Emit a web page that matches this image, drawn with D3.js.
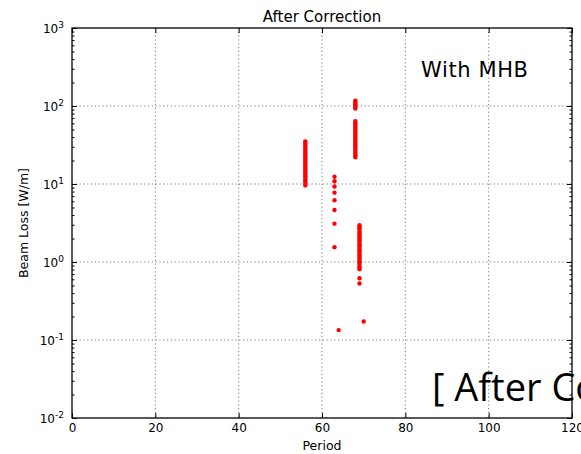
<!DOCTYPE html>
<html>
<head>
<meta charset="utf-8">
<script src="https://cdn.jsdelivr.net/npm/d3@7"></script>
<style>
  html, body { margin: 0; padding: 0; background: #fff; }
  svg { display: block; }
  text { font-family: "DejaVu Sans", sans-serif; fill: #000; }
</style>
</head>
<body>
<script>
// Beam loss per period after correction (W/m), grouped by period
const periods = [56, 63, 64, 68, 69, 70];
const lossAt56 = [9.6, 10.1, 10.7, 11.3, 11.9, 12.6, 13.3, 14.0, 14.8, 15.6, 16.5, 17.4,
                  18.4, 19.4, 20.5, 21.6, 22.8, 24.1, 25.4, 26.8, 28.3, 29.9, 31.6, 33.4, 35.2];
const lossAt63 = [1.55, 3.1, 4.65, 6.2, 7.75, 9.3, 10.85, 12.4];
const lossAt64 = [0.134];
const lossAt68 = [22.1, 23.3, 24.6, 26.0, 27.4, 28.9, 30.5, 32.2, 34.0, 35.9, 37.9, 40.0,
                  42.2, 44.5, 47.0, 49.6, 52.3, 55.2, 58.3, 61.5, 64.0,
                  93, 97, 101, 105, 109, 113, 117];
const lossAt69 = [0.53, 0.62, 0.81, 0.85, 0.89, 0.94, 0.99, 1.04, 1.09, 1.15, 1.21, 1.27,
                  1.34, 1.41, 1.48, 1.56, 1.64, 1.72, 1.81, 1.90, 2.0, 2.1, 2.21, 2.33,
                  2.45, 2.58, 2.71, 2.85, 2.97];
const lossAt70 = [0.173];
const lossGroups = [lossAt56, lossAt63, lossAt64, lossAt68, lossAt69, lossAt70];

// Axis ticks
const xTicks = [0, 20, 40, 60, 80, 100, 120];
const yExponents = [-2, -1, 0, 1, 2, 3];

// Texts
const titleText = "After Correction";
const xLabel = "Period";
const yLabel = "Beam Loss [W/m]";
const noteText = "With MHB";
const bannerText = "[ After Correction ]";

const W = 581, H = 454;
const plot = { left: 72, top: 28, right: 572, bottom: 418 };

const points = [];
periods.forEach((p, i) => lossGroups[i].forEach(v => points.push({ period: p, loss: v })));

const svg = d3.select("body").append("svg")
  .attr("width", W).attr("height", H);

const x = d3.scaleLinear().domain([0, 120]).range([plot.left, plot.right]);
const y = d3.scaleLog().domain([1e-2, 1e3]).range([plot.bottom, plot.top]);
const yTicks = yExponents.map(e => Math.pow(10, e));
const yMinor = y.ticks().filter(v => !yTicks.some(t => Math.abs(Math.log10(v) - Math.log10(t)) < 1e-9));

// Dotted grid
const grid = svg.append("g")
  .attr("stroke", "#7a7a7a").attr("stroke-width", 1).attr("stroke-dasharray", "1.2,2.6");
grid.selectAll(".gx").data(xTicks.slice(1, -1)).join("line")
  .attr("x1", d => x(d)).attr("x2", d => x(d))
  .attr("y1", plot.top).attr("y2", plot.bottom);
grid.selectAll(".gy").data(yTicks.slice(1, -1)).join("line")
  .attr("x1", plot.left).attr("x2", plot.right)
  .attr("y1", d => y(d)).attr("y2", d => y(d));

// Axes with inward ticks
const tickStyle = g => {
  g.select(".domain").remove();
  g.selectAll(".tick line").attr("stroke", "#000").attr("stroke-width", 1);
};

const xAxis = svg.append("g").attr("transform", `translate(0,${plot.bottom})`)
  .call(d3.axisBottom(x).tickValues(xTicks).tickSizeInner(-5).tickSizeOuter(0).tickPadding(5))
  .call(tickStyle);
xAxis.selectAll(".tick text").attr("font-size", 12).attr("font-family", "DejaVu Sans").attr("fill", "#000");

svg.append("g").attr("transform", `translate(0,${plot.top})`)
  .call(d3.axisTop(x).tickValues(xTicks).tickSizeInner(-5).tickSizeOuter(0).tickFormat(""))
  .call(tickStyle);

const yAxis = svg.append("g").attr("transform", `translate(${plot.left},0)`)
  .call(d3.axisLeft(y).tickValues(yTicks).tickSizeInner(-5).tickSizeOuter(0).tickPadding(8).tickFormat(""))
  .call(tickStyle);
yAxis.selectAll(".tick text")
  .attr("font-size", 12).attr("font-family", "DejaVu Sans").attr("fill", "#000")
  .attr("dy", "0.36em")
  .each(function (d, i) {
    const t = d3.select(this);
    t.append("tspan").text("10");
    t.append("tspan").attr("font-size", 9).attr("dy", -4.8).text(String(yExponents[i]));
  });

svg.append("g").attr("transform", `translate(${plot.left},0)`)
  .call(d3.axisLeft(y).tickValues(yMinor).tickSizeInner(-2.5).tickSizeOuter(0).tickFormat(""))
  .call(tickStyle);

svg.append("g").attr("transform", `translate(${plot.right},0)`)
  .call(d3.axisRight(y).tickValues(yTicks).tickSizeInner(-5).tickSizeOuter(0).tickFormat(""))
  .call(tickStyle);
svg.append("g").attr("transform", `translate(${plot.right},0)`)
  .call(d3.axisRight(y).tickValues(yMinor).tickSizeInner(-2.5).tickSizeOuter(0).tickFormat(""))
  .call(tickStyle);

// Data points
svg.append("g").selectAll("circle").data(points).join("circle")
  .attr("cx", d => x(d.period))
  .attr("cy", d => y(d.loss))
  .attr("r", 2.2)
  .attr("fill", "#ff0000");

// Frame
svg.append("rect")
  .attr("x", plot.left).attr("y", plot.top)
  .attr("width", plot.right - plot.left).attr("height", plot.bottom - plot.top)
  .attr("fill", "none").attr("stroke", "#000").attr("stroke-width", 1.3);

// Titles and labels
svg.append("text")
  .attr("x", (plot.left + plot.right) / 2).attr("y", 22)
  .attr("text-anchor", "middle").attr("font-size", 15)
  .text(titleText);

svg.append("text")
  .attr("x", (plot.left + plot.right) / 2).attr("y", 450)
  .attr("text-anchor", "middle").attr("font-size", 12.5)
  .text(xLabel);

svg.append("text")
  .attr("transform", `translate(28,${(plot.top + plot.bottom) / 2}) rotate(-90)`)
  .attr("text-anchor", "middle").attr("font-size", 12.5)
  .text(yLabel);

// Annotations
svg.append("text")
  .attr("x", 421).attr("y", 77)
  .attr("font-family", "Liberation Sans, Arial, sans-serif")
  .attr("font-size", 21)
  .attr("textLength", 107).attr("lengthAdjust", "spacing")
  .text(noteText);

svg.append("text")
  .attr("x", 432).attr("y", 401)
  .style("font-family", "'Open Sans', 'Noto Sans', sans-serif")
  .attr("font-size", 38)
  .text(bannerText);
</script>
</body>
</html>
